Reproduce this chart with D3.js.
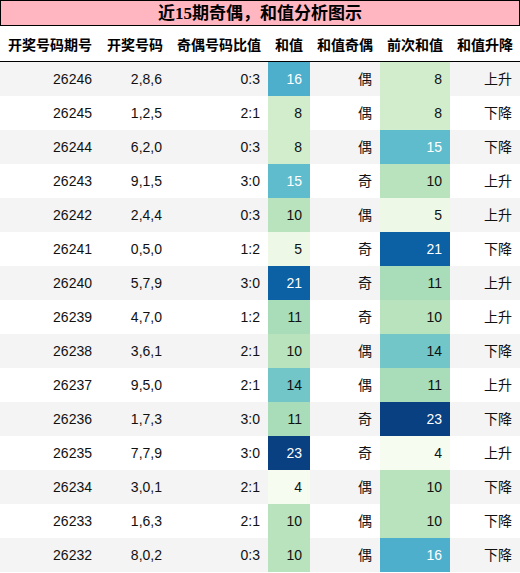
<!DOCTYPE html><html><head><meta charset="utf-8"><script src="https://cdn.jsdelivr.net/npm/d3@7"></script>
<style>body{margin:0;background:#fff}</style></head><body><svg id="c" width="520" height="573"></svg>
<script>
const title = "近15期奇偶，和值分析图示";
const headers = ["开奖号码期号","开奖号码","奇偶号码比值","和值","和值奇偶","前次和值","和值升降"];
const periods = ["26246","26245","26244","26243","26242","26241","26240","26239","26238","26237","26236","26235","26234","26233","26232"];
const numbers = ["2,8,6","1,2,5","6,2,0","9,1,5","2,4,4","0,5,0","5,7,9","4,7,0","3,6,1","9,5,0","1,7,3","7,7,9","3,0,1","1,6,3","8,0,2"];
const ratios = ["0:3","2:1","0:3","3:0","0:3","1:2","3:0","1:2","2:1","2:1","3:0","3:0","2:1","2:1","0:3"];
const sums = [16,8,8,15,10,5,21,11,10,14,11,23,4,10,10];
const parity = ["偶","偶","偶","奇","偶","奇","奇","奇","偶","偶","奇","奇","偶","偶","偶"];
const prevSums = [8,8,15,10,5,21,11,10,14,11,23,4,10,10,16];
const trend = ["上升","下降","下降","上升","上升","下降","上升","上升","下降","上升","下降","上升","下降","下降","下降"];

const svg = d3.select("#c");
const W = 520;
const colEdges = [0,100,170,268,310,380,450,520];
const rowH = 34, tableTop = 62;
const y = d3.scaleBand().domain(d3.range(15)).range([tableTop, tableTop+15*rowH]);
const color = d3.scaleSequential(d3.interpolateGnBu).domain([4,23]);
const font = "'Liberation Sans','Noto Sans CJK SC',sans-serif";

svg.append("rect").attr("x",0.5).attr("y",0.5).attr("width",W-1).attr("height",25).attr("fill","#ffb6c1").attr("stroke","#000");
svg.append("text").attr("x",W/2).attr("y",19).attr("text-anchor","middle").attr("font-size",17).attr("font-weight","bold")
  .attr("font-family","'Liberation Serif','Noto Sans CJK SC',serif").text(title);

headers.forEach((h,i)=>{
  svg.append("text").attr("x",(colEdges[i]+colEdges[i+1])/2).attr("y",50).attr("text-anchor","middle")
    .attr("font-size",14).attr("font-weight","bold").attr("font-family",font).text(h);
});
svg.append("line").attr("x1",0).attr("x2",W).attr("y1",61.5).attr("y2",61.5).attr("stroke","#000");

const rows = d3.range(15);
const g = svg.selectAll("g.r").data(rows).join("g").attr("transform",i=>`translate(0,${y(i)})`);
g.append("rect").attr("width",W).attr("height",rowH).attr("fill",i=>i%2===0?"#f4f4f4":"#fff");
g.append("rect").attr("x",colEdges[3]).attr("width",colEdges[4]-colEdges[3]).attr("height",rowH).attr("fill",i=>color(sums[i]));
g.append("rect").attr("x",colEdges[5]).attr("width",colEdges[6]-colEdges[5]).attr("height",rowH).attr("fill",i=>color(prevSums[i]));
const cols = [periods,numbers,ratios,sums,parity,prevSums,trend];
cols.forEach((arr,c)=>{
  g.append("text").attr("x",colEdges[c+1]-8).attr("y",rowH/2+5).attr("text-anchor","end")
    .attr("font-size",14).attr("font-family",font)
    .attr("fill",i=>((c===3||c===5)&&arr[i]>=15)?"#fff":"#111")
    .text(i=>arr[i]);
});
</script></body></html>
